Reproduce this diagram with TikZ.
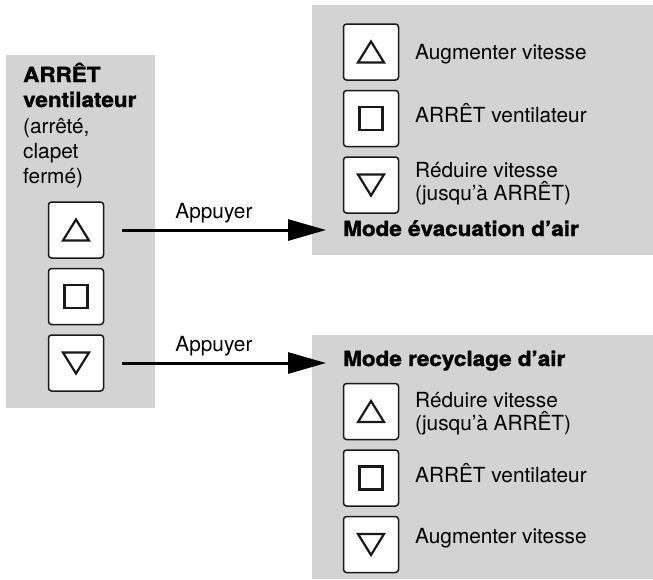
\documentclass[tikz,border=0pt]{standalone}
\usepackage{fontspec}
\setmainfont{TeX Gyre Heros}
\newfontfamily\heavyfont{TeX Gyre Heros}[BoldFeatures={FakeBold=1.6,FakeStretch=1.08}]
\usetikzlibrary{arrows.meta,positioning,calc}
\definecolor{panelgray}{RGB}{211,211,211}
\definecolor{keyline}{RGB}{25,25,25}
\tikzset{%
  font=\fontsize{20.8pt}{25pt}\selectfont,
  >={Triangle[length=38pt,width=21pt]},
  panel/.style={rectangle,fill=panelgray,inner sep=0pt},
  key/.style={rectangle,draw=keyline,line width=1.5pt,fill=white,rounded corners=3pt,
    minimum width=55pt,minimum height=56pt,inner sep=0pt},
  keyup/.style={key,path picture={\draw[line width=2.2pt,line join=miter,sharp corners]
    ([shift={(0pt,10.5pt)}]path picture bounding box.center) -- ++(13pt,-21pt) -- ++(-26pt,0pt) -- cycle;}},
  keydown/.style={key,path picture={\draw[line width=2.2pt,line join=miter,sharp corners]
    ([shift={(0pt,-10.5pt)}]path picture bounding box.center) -- ++(13pt,21pt) -- ++(-26pt,0pt) -- cycle;}},
  keystop/.style={key,path picture={\draw[line width=2.2pt,sharp corners]
    ([shift={(-11.5pt,-11.5pt)}]path picture bounding box.center) rectangle ++(23pt,23pt);}},
  txt/.style={anchor=base west,inner sep=0pt},
  head/.style={txt,font=\fontsize{20.8pt}{25pt}\selectfont\heavyfont\bfseries},
  push/.style={draw,line width=3pt,->}
}

\begin{document}
\begin{tikzpicture}[x=1pt,y=-1pt]
	\useasboundingbox (0,0) rectangle (653,579);
	% grey panels
	\node[panel,minimum width=149pt,minimum height=353pt] (off) at (80.5,231.5) {};
	\node[panel,minimum width=341pt,minimum height=250pt] (exhaust) at (482.5,130) {};
	\node[panel,minimum width=341pt,minimum height=244pt] (recycle) at (482.5,457) {};
	
	% state fan off
	\node[head] (offa) at (23,82) {ARRÊT};
	\node[head] (offb) at (23,107) {ventilateur};
	\node[txt] (offc) at (23,133) {(arrêté,};
	\node[txt] (offd) at (23,158) {clapet};
	\node[txt] (offe) at (23,183) {fermé)};
	\node[keyup] (lup) at (76,230) {};
	\node[keystop,below=9pt of lup] (lstop) {};
	\node[keydown,below=9pt of lstop] (ldown) {};
	
	% exhaust air mode
	\node[keyup] (eup) at (371,52) {};
	\node[keystop,below=9pt of eup] (estop) {};
	\node[keydown,below=9pt of estop] (edown) {};
	\node[txt] (eupt) at (415,59) {Augmenter vitesse};
	\node[txt] (estopt) at (415,122) {ARRÊT ventilateur};
	\node[txt] (edownt) at (415,177) {Réduire vitesse};
	\node[txt] (edownu) at (415,200) {(jusqu’à ARRÊT)};
	\node[head] (evac) at (343,236) {Mode évacuation d’air};
	
	% recirculation mode
	\node[head] (recyc) at (343,366) {Mode recyclage d’air};
	\node[keyup] (rup) at (371,411.5) {};
	\node[keystop,below=9pt of rup] (rstop) {};
	\node[keydown,below=9pt of rstop] (rdown) {};
	\node[txt] (rupt) at (415,407) {Réduire vitesse};
	\node[txt] (rupu) at (415,430) {(jusqu’à ARRÊT)};
	\node[txt] (rstopt) at (415,482) {ARRÊT ventilateur};
	\node[txt] (rdownt) at (415,543) {Augmenter vitesse};
	
	\begin{scope}[every node/.style={pos=.45,anchor=south,inner sep=5.5pt}]
	\draw[push] ([xshift=18pt]lup.east) -- ([xshift=-17pt]lup.east -| evac.west) node {Appuyer};
	\draw[push] ([xshift=18pt]ldown.east) -- ([xshift=-17pt]ldown.east -| recyc.west) node {Appuyer};
	\end{scope}
\end{tikzpicture}
\end{document}
